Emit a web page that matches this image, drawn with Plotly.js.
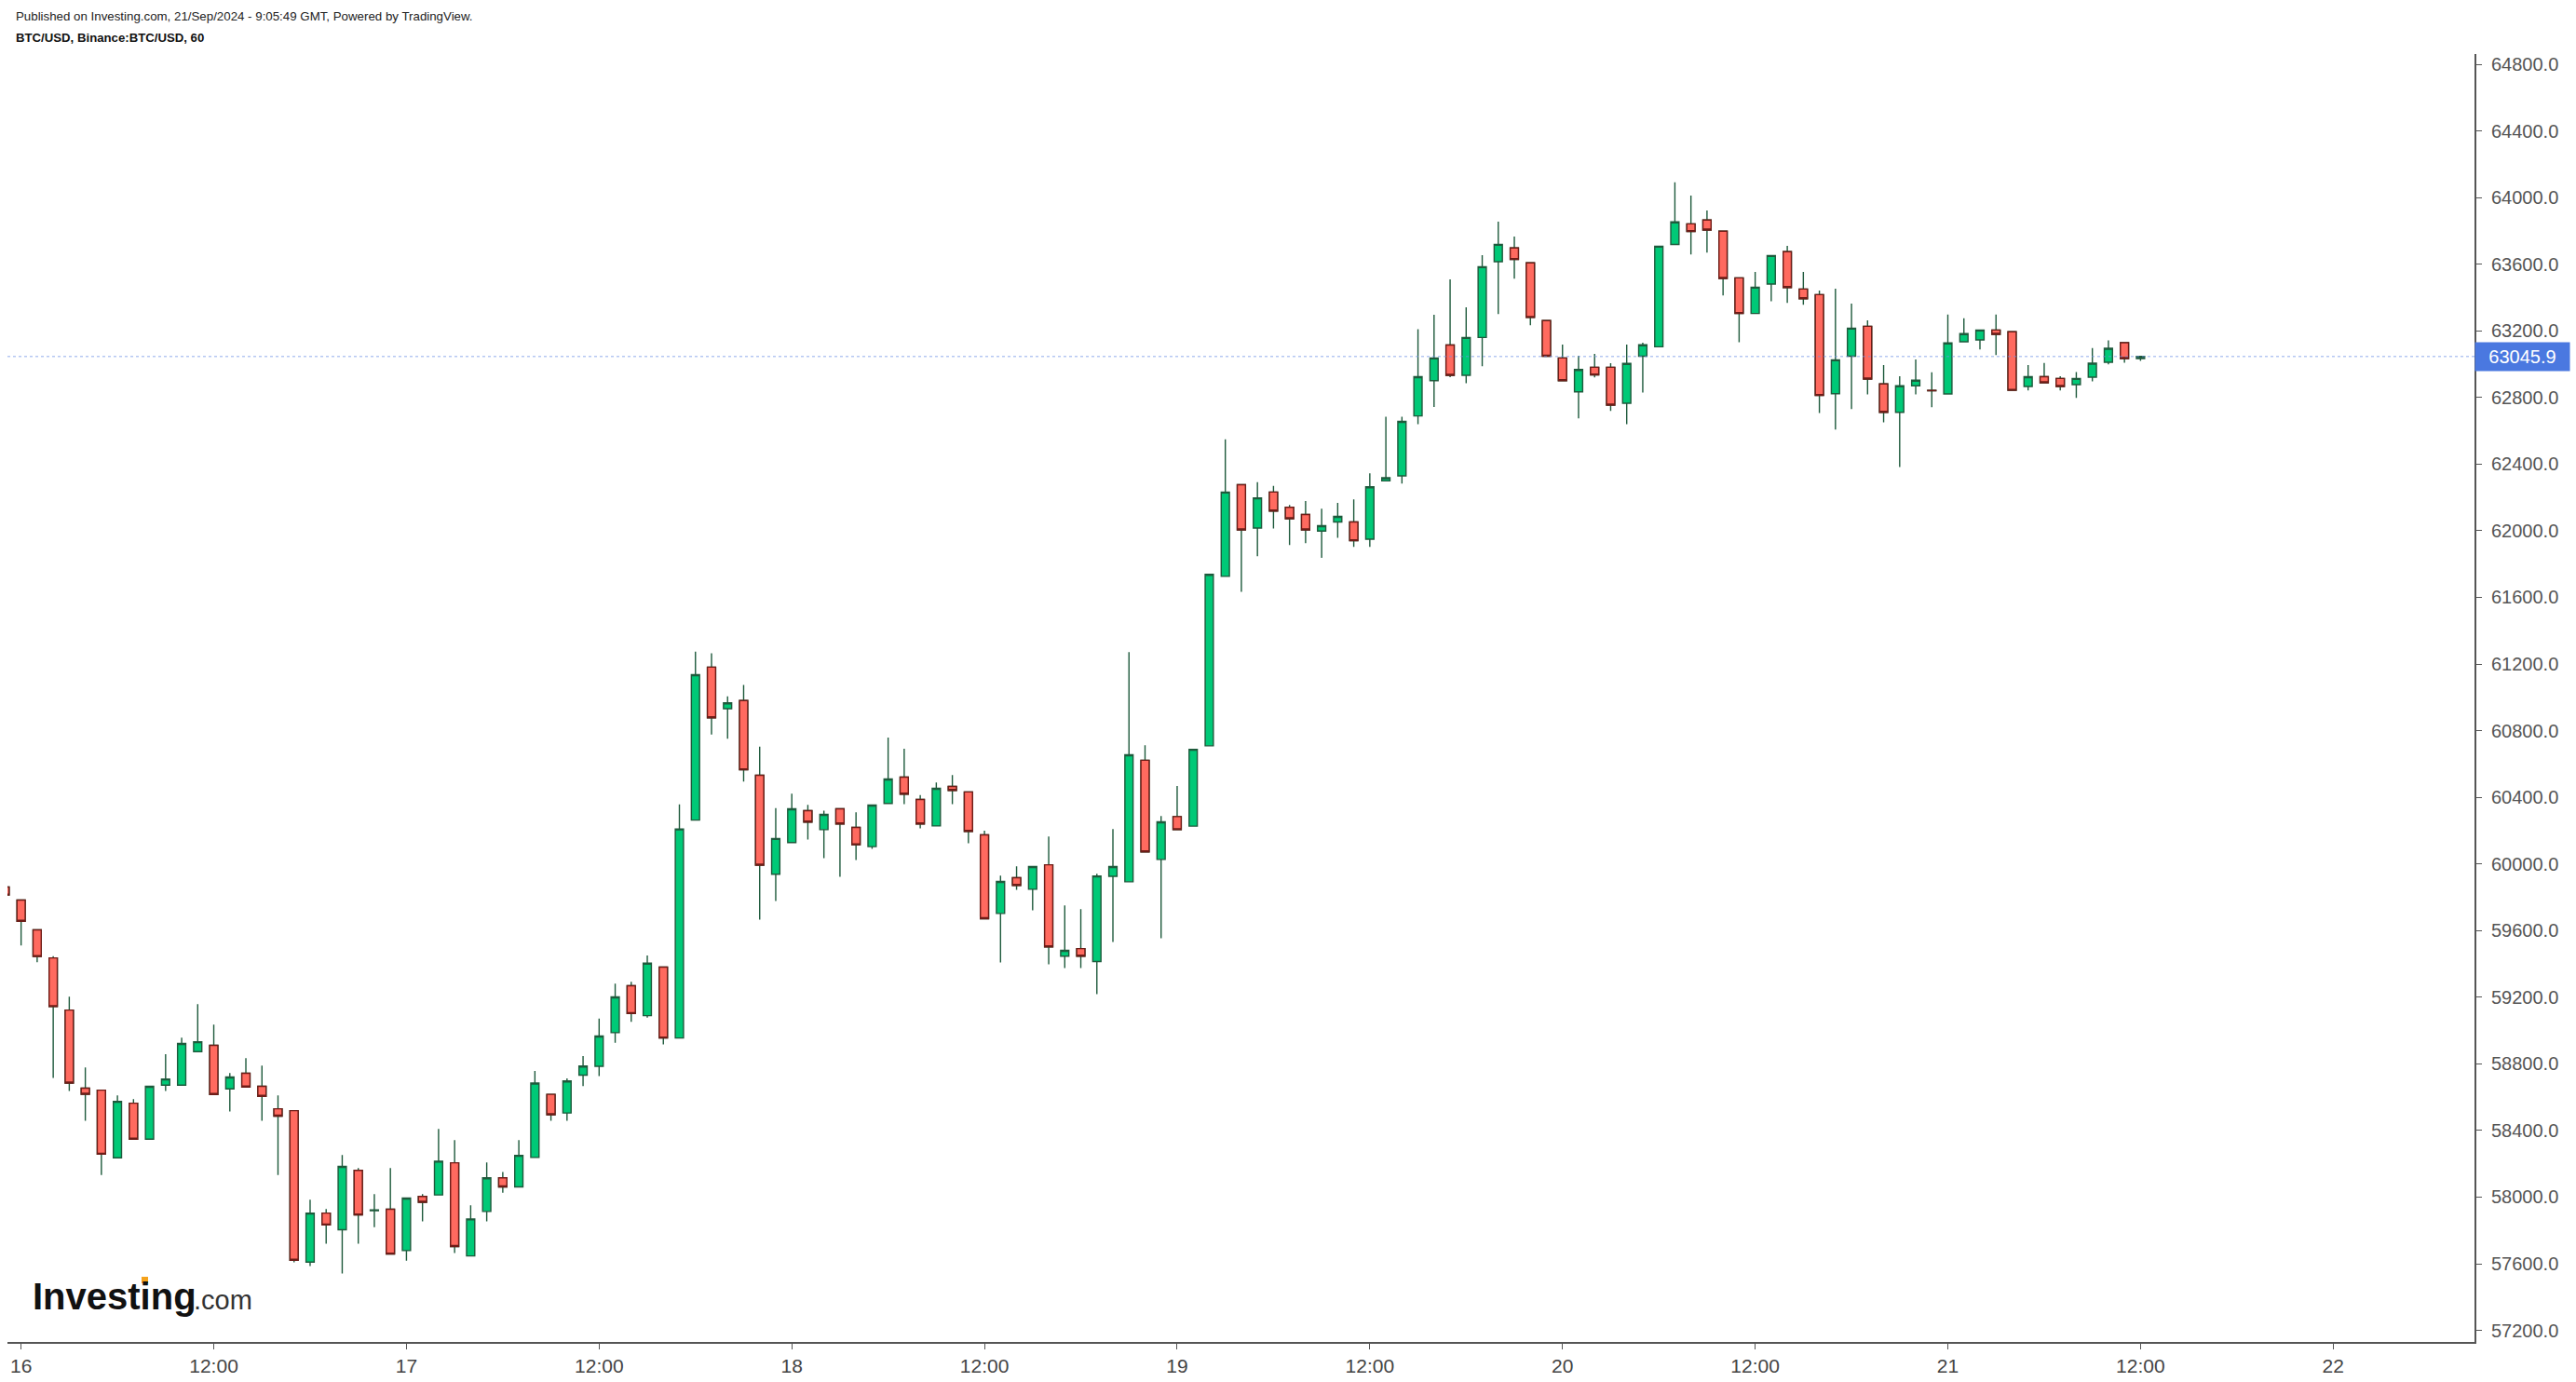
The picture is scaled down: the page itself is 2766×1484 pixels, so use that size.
<!DOCTYPE html>
<html>
<head>
<meta charset="utf-8">
<script src="https://cdn.plot.ly/plotly-3.0.1.min.js"></script>
<style>
  html, body { margin: 0; padding: 0; background: #ffffff; }
  #chart { width: 2766px; height: 1484px; }
</style>
</head>
<body>
<div id="chart"></div>
<script>
// ---- Data (hourly BTC/USD candles, first candle = 2024-09-15 23:00) ----
const startHourUTC = Date.UTC(2024, 8, 15, 23);

const openP = [
  59861,59783,59604,59436,59123,58654,58642,58236,58564,58348,
  58672,58672,58873,58911,58650,58743,58665,58530,58519,57610,
  57904,57804,58161,57919,57927,57679,58004,58013,58206,57647,
  57914,58116,58061,58238,58617,58505,58732,58785,58987,59269,
  59089,59381,58955,60263,61181,60932,60981,60532,59938,60128,
  60320,60206,60331,60219,60104,60363,60521,60387,60228,60465,
  60432,60174,59703,59917,59848,59995,59446,59492,59414,59926,
  59893,60622,60027,60284,60227,60709,61726,62276,62016,62232,
  62141,62097,61998,62053,62053,61949,62299,62329,62689,62901,
  63115,62933,63160,63615,63697,63608,63261,63037,62834,62981,
  62981,62765,63048,63104,63718,63842,63865,63798,63518,63304,
  63481,63675,63451,63417,62823,63048,63227,62881,62711,62870,
  62843,62821,63134,63145,63205,63194,62866,62925,62914,62877,
  62922,63011,63129,63034
];
const highP = [
  59866,59785,59606,59447,59203,58778,58645,58611,58588,58667,
  58858,58957,59158,59036,58745,58834,58789,58611,58521,57984,
  57928,58253,58174,58018,58174,57995,58018,58410,58343,57951,
  58208,58151,58343,58757,58619,58712,58847,59072,59282,59292,
  59451,59383,60357,61274,61264,61006,61074,60704,60335,60422,
  60355,60320,60332,60310,60355,60758,60691,60413,60489,60534,
  60433,60199,59930,59986,59986,60165,59751,59729,59941,60210,
  61272,60713,60288,60468,60690,61740,62549,62277,62292,62269,
  62155,62178,62132,62167,62188,62345,62684,62684,63209,63296,
  63509,63341,63654,63855,63766,63609,63262,63117,63050,63062,
  63006,63117,63129,63710,64092,64012,63923,63799,63519,63554,
  63654,63710,63554,63442,63453,63363,63263,62994,62927,63028,
  62951,63298,63276,63206,63298,63195,62994,63007,62927,62952,
  63097,63142,63130,63047
];
const lowP = [
  59808,59511,59410,58715,58637,58458,58133,58234,58346,58346,
  58637,58670,58871,58614,58514,58659,58458,58133,57608,57586,
  57720,57541,57720,57820,57656,57619,57854,58012,57664,57645,
  57854,58026,58059,58236,58458,58458,58667,58727,58927,59052,
  59077,58917,58953,60260,60777,60752,60495,59666,59778,60126,
  60146,60035,59923,60023,60091,60361,60359,60214,60227,60359,
  60124,59669,59408,59844,59721,59397,59375,59375,59218,59531,
  59891,60070,59554,60204,60225,60706,61725,61634,61847,62014,
  61914,61926,61838,61958,61903,61903,62297,62283,62640,62743,
  62922,62886,62987,63300,63513,63233,63046,62900,62674,62920,
  62719,62640,62830,63103,63716,63658,63669,63412,63132,63302,
  63378,63367,63356,62707,62607,62730,62819,62651,62383,62819,
  62741,62819,63133,63088,63054,62842,62842,62887,62842,62797,
  62897,62998,63009,63020
];
const closeP = [
  59813,59656,59444,59144,58685,58618,58258,58575,58348,58665,
  58709,58922,58933,58616,58721,58661,58605,58486,57621,57904,
  57833,58184,57893,57923,57658,57994,57969,58216,57704,57869,
  58116,58061,58251,58685,58495,58697,58787,58967,59202,59102,
  59404,58955,60210,61136,60877,60967,60565,59993,60153,60331,
  60251,60297,60240,60115,60353,60510,60419,60240,60454,60441,
  60195,59671,59895,59871,59984,59502,59481,59446,59928,59984,
  60655,60072,60253,60206,60688,61738,62232,62005,62197,62118,
  62072,62005,62030,62086,61940,62264,62318,62656,62925,63037,
  62933,63160,63585,63719,63628,63280,63048,62901,62968,62935,
  62754,63004,63116,63708,63854,63796,63805,63514,63304,63462,
  63652,63460,63393,62812,63026,63216,62911,62711,62870,62904,
  62840,63127,63183,63205,63179,62843,62925,62888,62866,62914,
  63006,63095,63034,63045.9
];
const lastPrice = 63045.9;

const tickDates = [
  '2024-09-16 00:00','2024-09-16 12:00','2024-09-17 00:00','2024-09-17 12:00',
  '2024-09-18 00:00','2024-09-18 12:00','2024-09-19 00:00','2024-09-19 12:00',
  '2024-09-20 00:00','2024-09-20 12:00','2024-09-21 00:00','2024-09-21 12:00',
  '2024-09-22 00:00'
];
const tickLabels = ['16','12:00','17','12:00','18','12:00','19','12:00','20','12:00','21','12:00','22'];

const headerLine1 = 'Published on Investing.com, 21/Sep/2024 - 9:05:49 GMT, Powered by TradingView.';
const headerLine2 = 'BTC/USD, Binance:BTC/USD, 60';

// ---- build times ----
function pad(n){ return (n < 10 ? '0' : '') + n; }
const times = openP.map((_, i) => {
  const d = new Date(startHourUTC + i * 3600000);
  return d.getUTCFullYear() + '-' + pad(d.getUTCMonth()+1) + '-' + pad(d.getUTCDate()) + ' ' + pad(d.getUTCHours()) + ':00';
});

// down candles body overlay (dark red outline on bodies while wicks stay dark green)
const dn = [];
openP.forEach((o, i) => { if (closeP[i] < o) dn.push(i); });

const GREEN_FILL = '#00c977', GREEN_LINE = '#1e5a3c';
const RED_FILL = '#ff6a5f', RED_LINE = '#6e1c17';

const traces = [
  {
    type: 'candlestick',
    x: times, open: openP, high: highP, low: lowP, close: closeP,
    increasing: { line: { color: GREEN_LINE, width: 1.4 }, fillcolor: GREEN_FILL },
    decreasing: { line: { color: GREEN_LINE, width: 1.4 }, fillcolor: RED_FILL },
    whiskerwidth: 0,
    showlegend: false,
    hoverinfo: 'skip'
  },
  {
    type: 'candlestick',
    x: dn.map(i => times[i]),
    open: dn.map(i => openP[i]),
    close: dn.map(i => closeP[i]),
    high: dn.map(i => openP[i]),
    low: dn.map(i => closeP[i]),
    increasing: { line: { color: RED_LINE, width: 1.4 }, fillcolor: RED_FILL },
    decreasing: { line: { color: RED_LINE, width: 1.4 }, fillcolor: RED_FILL },
    whiskerwidth: 0,
    showlegend: false,
    hoverinfo: 'skip'
  }
];

// layout geometry helpers (plot area in px)
const PL = 8, PR = 2657, PT = 58, PB = 1441;
const px = v => (v - PL) / (PR - PL);
const py = v => (PB - v) / (PB - PT);

const FONT = 'Liberation Sans, Arial, Helvetica, sans-serif';

const layout = {
  width: 2766, height: 1484,
  margin: { l: PL, r: 2766 - PR, t: PT, b: 1484 - PB, pad: 0 },
  paper_bgcolor: '#ffffff', plot_bgcolor: '#ffffff',
  showlegend: false,
  boxmode: 'overlay',
  boxgap: 0.27,
  font: { family: FONT, color: '#444', size: 19 },
  xaxis: {
    type: 'date',
    range: ['2024-09-15 23:09', '2024-09-22 08:48'],
    rangeslider: { visible: false },
    showgrid: false, zeroline: false,
    showline: true, linecolor: '#555', linewidth: 2,
    ticks: 'outside', ticklen: 6, tickcolor: '#555', tickwidth: 1,
    tickmode: 'array', tickvals: tickDates, ticktext: tickLabels,
    tickfont: { family: FONT, size: 21, color: '#444' },
    fixedrange: true
  },
  yaxis: {
    side: 'right',
    range: [57130.7, 64861.5],
    showgrid: false, zeroline: false,
    showline: true, linecolor: '#555', linewidth: 2,
    ticks: 'outside', ticklen: 6, tickcolor: '#555', tickwidth: 1,
    tick0: 57200, dtick: 400, tickformat: '.1f',
    ticklabelstandoff: 6,
    tickfont: { family: FONT, size: 20, color: '#555' },
    fixedrange: true
  },
  shapes: [
    {
      type: 'line', xref: 'paper', x0: 0, x1: 1, yref: 'y', y0: lastPrice, y1: lastPrice,
      line: { color: 'rgba(110,145,230,0.5)', width: 1.5, dash: 'dot' }, layer: 'above'
    },
    {
      type: 'rect', xref: 'paper', yref: 'paper',
      x0: px(152), x1: px(159), y0: py(1378), y1: py(1371),
      fillcolor: '#f5a21b', line: { width: 0 }, layer: 'above'
    }
  ],
  annotations: [
    {
      xref: 'paper', yref: 'paper', x: px(15), y: py(17), xanchor: 'left', yanchor: 'middle',
      text: headerLine1, showarrow: false,
      font: { family: FONT, size: 13.3, color: '#222' }
    },
    {
      xref: 'paper', yref: 'paper', x: px(15), y: py(40), xanchor: 'left', yanchor: 'middle',
      text: '<b>' + headerLine2 + '</b>', showarrow: false,
      font: { family: FONT, size: 13.2, color: '#111' }
    },
    {
      xref: 'paper', yref: 'y', x: 1, y: lastPrice, xanchor: 'left', yanchor: 'middle',
      text: lastPrice.toFixed(1), showarrow: false,
      bgcolor: '#4a78e0', borderpad: 4, width: 93, align: 'center',
      font: { family: FONT, size: 20, color: '#ffffff' }
    },
    {
      xref: 'paper', yref: 'paper', x: px(33), y: py(1392), xanchor: 'left', yanchor: 'middle',
      text: '<b>Investing</b>', showarrow: false,
      font: { family: FONT, size: 40, color: '#111' }
    },
    {
      xref: 'paper', yref: 'paper', x: px(206), y: py(1396), xanchor: 'left', yanchor: 'middle',
      text: '.com', showarrow: false,
      font: { family: FONT, size: 29, color: '#333' }
    }
  ]
};

Plotly.newPlot('chart', traces, layout, { displayModeBar: false, staticPlot: true });
</script>
</body>
</html>
